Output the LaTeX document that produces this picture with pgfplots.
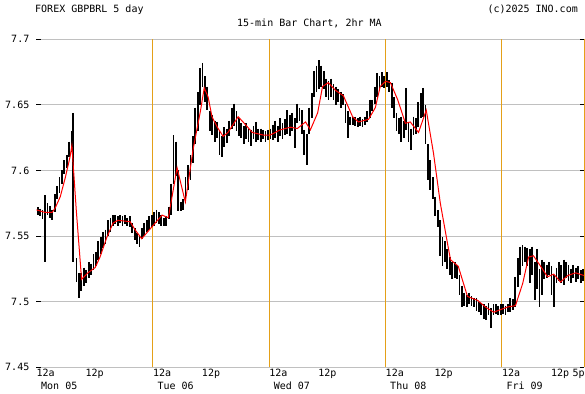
\documentclass[border=0pt]{standalone}
\usepackage{fontspec}
\setmainfont{DejaVu Sans Mono}
\usepackage{pgfplots}
\pgfplotsset{compat=1.18}
\usepackage{pgfplotstable}
\definecolor{dayline}{RGB}{228,160,24}
\definecolor{gridgray}{RGB}{192,192,192}

\pgfplotstableread{
t l h
0.25 7.566 7.572
0.75 7.565 7.571
1.25 7.563 7.570
1.75 7.530 7.581
2.25 7.566 7.575
2.75 7.564 7.573
3.25 7.562 7.570
3.75 7.568 7.582
4.25 7.578 7.588
4.75 7.583 7.595
5.25 7.590 7.600
5.75 7.597 7.608
6.25 7.602 7.612
6.75 7.610 7.622
7.25 7.614 7.630
7.6 7.530 7.644
8.25 7.515 7.533
8.75 7.503 7.522
9.25 7.508 7.522
9.75 7.512 7.526
10.25 7.514 7.524
10.75 7.518 7.530
11.25 7.520 7.529
11.75 7.524 7.536
12.25 7.527 7.538
12.75 7.532 7.546
13.25 7.536 7.549
13.75 7.541 7.553
14.25 7.544 7.555
14.75 7.550 7.562
15.25 7.553 7.564
15.75 7.558 7.566
16.25 7.559 7.566
16.75 7.558 7.565
17.25 7.560 7.566
17.75 7.558 7.565
18.25 7.559 7.566
18.75 7.558 7.564
19.25 7.557 7.565
19.75 7.552 7.560
20.25 7.547 7.556
20.75 7.544 7.552
21.25 7.542 7.550
21.75 7.548 7.556
22.25 7.550 7.560
22.75 7.553 7.562
23.25 7.555 7.565
23.75 7.557 7.566
24.25 7.558 7.568
24.75 7.560 7.570
25.25 7.559 7.568
25.75 7.558 7.566
26.25 7.558 7.564
26.75 7.558 7.565
27.25 7.563 7.572
27.75 7.566 7.590
28.25 7.590 7.627
28.75 7.596 7.622
29.25 7.569 7.600
29.75 7.569 7.576
30.25 7.570 7.578
30.75 7.575 7.595
31.25 7.585 7.604
31.75 7.593 7.612
32.25 7.606 7.626
32.75 7.620 7.648
33.25 7.630 7.660
33.75 7.650 7.678
34.25 7.664 7.682
34.75 7.652 7.672
35.25 7.646 7.664
35.75 7.630 7.645
36.25 7.627 7.642
36.75 7.622 7.638
37.25 7.625 7.637
37.75 7.612 7.630
38.25 7.610 7.626
38.75 7.618 7.633
39.25 7.621 7.632
39.75 7.626 7.638
40.25 7.632 7.648
40.75 7.634 7.651
41.25 7.630 7.645
41.75 7.626 7.640
42.25 7.625 7.636
42.75 7.620 7.634
43.25 7.624 7.636
43.75 7.622 7.632
44.25 7.619 7.631
44.75 7.624 7.634
45.25 7.622 7.637
45.75 7.623 7.632
46.25 7.622 7.632
46.75 7.624 7.631
47.25 7.622 7.630
47.75 7.623 7.631
48.25 7.624 7.632
48.75 7.623 7.635
49.25 7.625 7.638
49.75 7.622 7.634
50.25 7.626 7.640
50.75 7.624 7.636
51.25 7.627 7.639
51.75 7.628 7.646
52.25 7.626 7.642
52.75 7.630 7.644
53.25 7.617 7.640
53.75 7.636 7.651
54.25 7.638 7.648
54.75 7.628 7.646
55.25 7.612 7.631
55.75 7.604 7.628
56.25 7.628 7.648
56.75 7.640 7.659
57.25 7.656 7.676
57.75 7.660 7.680
58.25 7.662 7.684
58.75 7.664 7.680
59.25 7.662 7.676
59.75 7.656 7.670
60.25 7.654 7.668
60.75 7.656 7.670
61.25 7.654 7.666
61.75 7.650 7.664
62.25 7.652 7.662
62.75 7.648 7.660
63.25 7.650 7.658
63.75 7.636 7.651
64.25 7.625 7.645
64.75 7.635 7.641
65.25 7.635 7.641
65.75 7.634 7.641
66.25 7.633 7.640
66.75 7.634 7.641
67.25 7.633 7.639
67.75 7.635 7.641
68.25 7.637 7.645
68.75 7.640 7.654
69.25 7.645 7.654
69.75 7.651 7.664
70.25 7.656 7.674
70.75 7.662 7.672
71.25 7.664 7.675
71.75 7.663 7.672
72.25 7.664 7.675
72.75 7.660 7.669
73.25 7.648 7.667
73.75 7.640 7.656
74.25 7.630 7.644
74.75 7.628 7.640
75.25 7.622 7.641
75.75 7.625 7.638
76.25 7.631 7.663
76.75 7.622 7.636
77.25 7.616 7.632
77.75 7.627 7.641
78.25 7.628 7.640
78.75 7.633 7.652
79.25 7.640 7.659
79.75 7.641 7.663
80.25 7.620 7.650
80.75 7.593 7.620
81.25 7.585 7.608
81.75 7.578 7.595
82.25 7.565 7.580
82.75 7.557 7.570
83.25 7.535 7.562
83.75 7.527 7.549
84.25 7.530 7.546
84.75 7.525 7.540
85.25 7.520 7.534
85.75 7.517 7.530
86.25 7.518 7.530
86.75 7.517 7.528
87.25 7.505 7.520
87.75 7.496 7.512
88.25 7.497 7.507
88.75 7.496 7.505
89.25 7.498 7.507
89.75 7.497 7.504
90.25 7.496 7.503
90.75 7.493 7.503
91.25 7.492 7.500
91.75 7.490 7.499
92.25 7.487 7.498
92.75 7.486 7.497
93.25 7.490 7.499
93.75 7.480 7.495
94.25 7.490 7.498
94.75 7.491 7.498
95.25 7.490 7.497
95.75 7.490 7.498
96.25 7.491 7.498
96.75 7.490 7.497
97.25 7.492 7.498
97.75 7.492 7.503
98.25 7.494 7.502
98.75 7.496 7.519
99.25 7.511 7.533
99.75 7.520 7.542
100.25 7.527 7.543
100.75 7.530 7.542
101.25 7.527 7.541
101.75 7.514 7.540
102.25 7.520 7.542
102.75 7.501 7.530
103.25 7.510 7.540
103.75 7.496 7.525
104.25 7.505 7.532
104.75 7.517 7.530
105.25 7.518 7.528
105.75 7.520 7.530
106.25 7.505 7.527
106.75 7.496 7.520
107.25 7.514 7.526
107.75 7.516 7.530
108.25 7.514 7.528
108.75 7.513 7.532
109.25 7.518 7.530
109.75 7.516 7.528
110.25 7.514 7.525
110.75 7.518 7.528
111.25 7.515 7.526
111.75 7.517 7.527
112.25 7.514 7.524
112.75 7.516 7.525
}\bars

\pgfplotstableread{
t m
0 7.570
1.8 7.568
3.2 7.568
3.8 7.571
4.9 7.580
5.9 7.594
6.9 7.610
7.3 7.619
8.2 7.570
9.3 7.517
10.6 7.522
12.1 7.526
13.1 7.534
14.5 7.549
15.8 7.560
16.8 7.562
19.3 7.561
20.3 7.555
21.7 7.548
23.8 7.557
25.9 7.566
27.2 7.564
29.0 7.602
30.7 7.576
32.3 7.616
33.8 7.645
34.6 7.663
35.4 7.656
36.2 7.641
37.3 7.633
38.5 7.626
39.5 7.629
41.6 7.641
43.1 7.635
44.5 7.629
46.8 7.627
48.2 7.627
50.3 7.631
52.4 7.633
53.8 7.632
55.5 7.637
56.5 7.631
58.0 7.644
59.0 7.664
60.2 7.667
61.7 7.661
63.3 7.657
65.2 7.641
66.4 7.637
68.5 7.639
69.9 7.648
70.9 7.664
72.0 7.668
73.0 7.667
74.5 7.654
76.1 7.636
77.1 7.637
78.8 7.629
80.4 7.646
81.9 7.613
83.3 7.575
84.8 7.544
85.4 7.532
87.0 7.527
88.9 7.504
91.0 7.501
92.6 7.496
94.3 7.492
97.2 7.496
98.8 7.497
100.3 7.514
101.5 7.534
102.5 7.535
104.0 7.527
105.4 7.519
106.7 7.521
108.1 7.515
109.6 7.520
111.2 7.522
112.9 7.520
}\ma

\begin{document}
\fontsize{10bp}{12bp}\selectfont
\begin{tikzpicture}
\useasboundingbox (0,0) rectangle (585bp,394bp);
\begin{axis}[
  at={(36.5bp,26.7bp)}, anchor=south west,
  width=547.8bp, height=328bp, scale only axis,
  xmin=0, xmax=113, ymin=7.45, ymax=7.7,
  clip=false,
  axis line style={draw=none},
  /pgf/number format/assume math mode=true,
  every tick label/.append style={font=\fontsize{10bp}{12bp}\selectfont},
  ytick={7.45,7.5,7.55,7.6,7.65,7.7},
  yticklabels={7.45,7.5,7.55,7.6,7.65,7.7},
  ytick pos=both,
  ymajorgrids,
  major grid style={gridgray, line width=0.9bp},
  tick align=inside,
  major tick length=4bp,
  y tick style={black, line width=0.9bp},
  yticklabel style={inner sep=0pt, xshift=-7bp},
  xtick={0,24,48,72,96},
  xticklabels={12a,12a,12a,12a,12a},
  x tick style={draw=none},
  xticklabel style={anchor=north west, inner sep=0pt, yshift=-1.7bp},
  extra x ticks={12,36,60,84,108},
  extra x tick labels={12p,12p,12p,12p,12p},
  extra x tick style={grid=none, xticklabel style={anchor=north}},
]
\draw[dayline, line width=1bp] (axis cs:24,7.45) -- (axis cs:24,7.7);
\draw[dayline, line width=1bp] (axis cs:48,7.45) -- (axis cs:48,7.7);
\draw[dayline, line width=1bp] (axis cs:72,7.45) -- (axis cs:72,7.7);
\draw[dayline, line width=1bp] (axis cs:96,7.45) -- (axis cs:96,7.7);
\draw[dayline, line width=1bp] (axis cs:113,7.45) -- (axis cs:113,7.7);
\addplot[draw=none, mark=none, forget plot,
  error bars/.cd, y dir=minus, y explicit, error mark=none,
  error bar style={line width=1.8bp, draw=black, solid}]
  table[x=t, y=h, y error expr=\thisrow{h}-\thisrow{l}] {\bars};
\addplot[red, line width=1bp, forget plot] table[x=t, y=m] {\ma};
\node[anchor=north east, inner sep=0pt] at (axis cs:113,7.45) [xshift=0.5bp, yshift=-1.7bp] {5p};
\node[anchor=base west, inner sep=0pt] at (axis cs:0,7.45) [xshift=4.5bp, yshift=-22bp] {Mon 05};
\node[anchor=base west, inner sep=0pt] at (axis cs:24,7.45) [xshift=4.5bp, yshift=-22bp] {Tue 06};
\node[anchor=base west, inner sep=0pt] at (axis cs:48,7.45) [xshift=4.5bp, yshift=-22bp] {Wed 07};
\node[anchor=base west, inner sep=0pt] at (axis cs:72,7.45) [xshift=4.5bp, yshift=-22bp] {Thu 08};
\node[anchor=base west, inner sep=0pt] at (axis cs:96,7.45) [xshift=4.5bp, yshift=-22bp] {Fri 09};
\end{axis}
\node[anchor=base west, inner sep=0pt] at (35bp,381bp) {FOREX GBPBRL 5 day};
\node[anchor=base east, inner sep=0pt] at (578bp,381bp) {(c)2025 INO.com};
\node[anchor=base, inner sep=0pt] at (309.4bp,367.3bp) {15-min Bar Chart, 2hr MA};
\end{tikzpicture}
\end{document}
